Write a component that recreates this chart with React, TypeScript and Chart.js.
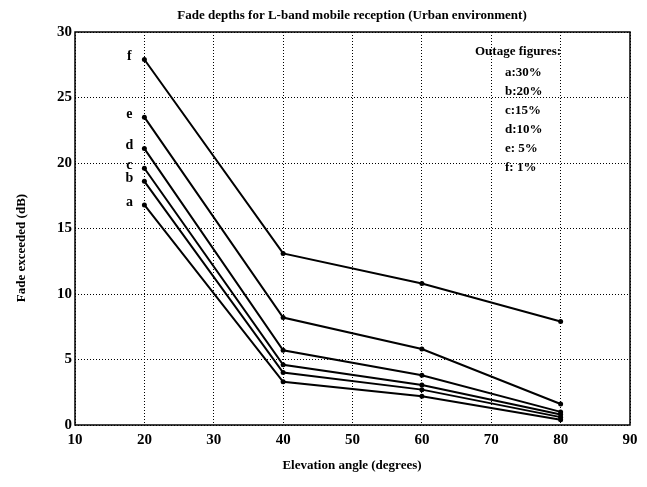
import React, { useEffect, useRef } from "react";
import { Chart, registerables } from "chart.js";

Chart.register(...registerables);

const elevation = [20, 40, 60, 80];
const seriesNames = ["a", "b", "c", "d", "e", "f"];
const seriesA = [16.8, 3.3, 2.2, 0.4];
const seriesB = [18.6, 4.0, 2.7, 0.6];
const seriesC = [19.6, 4.6, 3.05, 0.8];
const seriesD = [21.1, 5.7, 3.8, 1.0];
const seriesE = [23.5, 8.2, 5.8, 1.6];
const seriesF = [27.9, 13.1, 10.8, 7.9];
const allSeries = [seriesA, seriesB, seriesC, seriesD, seriesE, seriesF];
const outageFigures = ["a:30%", "b:20%", "c:15%", "d:10%", "e: 5%", "f: 1%"];
const legendTitle = "Outage figures:";
const chartTitle = "Fade depths for L-band mobile reception (Urban environment)";
const xTitle = "Elevation angle (degrees)";
const yTitle = "Fade exceeded (dB)";

const FONT = "'Liberation Serif', 'DejaVu Serif', serif";

const textPlugin = {
  id: "textPlugin",
  afterDraw(chart: any) {
    const ctx = chart.ctx;
    const { left, right, top, bottom } = chart.chartArea;
    const xs = chart.scales.x;
    const ys = chart.scales.y;
    ctx.save();
    ctx.strokeStyle = "#000";
    ctx.lineWidth = 1.5;
    ctx.strokeRect(left, top, right - left, bottom - top);
    ctx.fillStyle = "#000";
    ctx.font = `bold 13px ${FONT}`;
    ctx.textAlign = "center";
    ctx.textBaseline = "middle";
    ctx.fillText(chartTitle, 352, 16);
    ctx.fillText(xTitle, 352, 466);
    ctx.save();
    ctx.translate(22, 248);
    ctx.rotate(-Math.PI / 2);
    ctx.fillText(yTitle, 0, 0);
    ctx.restore();
    ctx.font = `bold 14px ${FONT}`;
    seriesNames.forEach((n, i) => {
      const px = xs.getPixelForValue(elevation[0]) - 15;
      const py = ys.getPixelForValue(allSeries[i][0]) - 3;
      ctx.fillText(n, px, py);
    });
    ctx.font = `bold 13px ${FONT}`;
    ctx.textAlign = "left";
    ctx.fillText(legendTitle, 475, 52);
    outageFigures.forEach((t, i) => {
      ctx.fillText(t, 505, 73 + i * 19);
    });
    ctx.restore();
  },
};

export default function App() {
  const ref = useRef<HTMLCanvasElement>(null);
  useEffect(() => {
    if (!ref.current) return;
    const chart = new Chart(ref.current, {
      type: "line",
      data: {
        datasets: allSeries.map((s, i) => ({
          label: seriesNames[i],
          data: s.map((v, j) => ({ x: elevation[j], y: v })),
          borderColor: "#000",
          backgroundColor: "#000",
          borderWidth: 2,
          pointRadius: 2.5,
          pointBackgroundColor: "#000",
          pointBorderWidth: 0,
          tension: 0,
        })),
      },
      plugins: [textPlugin],
      options: {
        animation: false,
        responsive: false,
        layout: { padding: { top: 32, right: 17, bottom: 0, left: 0 } },
        plugins: {
          legend: { display: false },
          title: { display: false },
          tooltip: { enabled: false },
        },
        scales: {
          x: {
            type: "linear",
            min: 10,
            max: 90,
            afterFit: (s: any) => {
              s.height = 62;
            },
            ticks: {
              stepSize: 10,
              color: "#000",
              padding: 6,
              maxRotation: 0,
              font: { family: FONT, size: 15, weight: "bold" },
            },
            grid: {
              color: "#000",
              lineWidth: 1,
              drawTicks: false,
            },
            border: { display: false, dash: [1, 2] },
          },
          y: {
            type: "linear",
            min: 0,
            max: 30,
            afterFit: (s: any) => {
              s.width = 75;
            },
            ticks: {
              stepSize: 5,
              color: "#000",
              padding: 3,
              font: { family: FONT, size: 15, weight: "bold" },
            },
            grid: {
              color: "#000",
              lineWidth: 1,
              drawTicks: false,
            },
            border: { display: false, dash: [1, 2] },
          },
        },
      },
    } as any);
    return () => chart.destroy();
  }, []);
  return (
    <div style={{ position: "fixed", left: 0, top: 0, width: 647, height: 487, background: "#fff" }}>
      <canvas ref={ref} width={647} height={487} style={{ width: 647, height: 487 }} />
    </div>
  );
}
